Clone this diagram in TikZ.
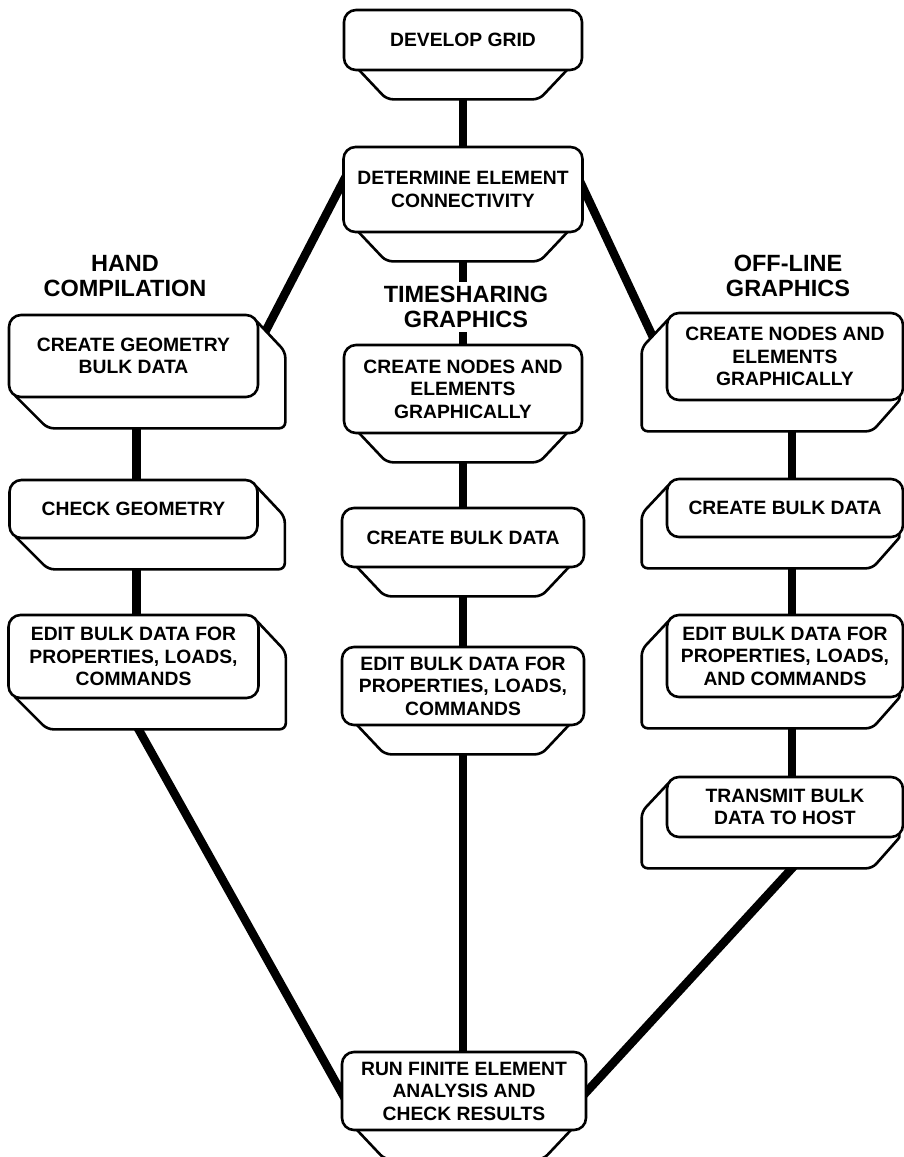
\documentclass[tikz,border=0pt]{standalone}
\usepackage{fontspec}
\setmainfont{Liberation Sans}
\usetikzlibrary{calc}
\pgfdeclarelayer{lines}
\pgfdeclarelayer{backs}
\pgfsetlayers{lines,backs,main}
\newcommand\bxfont{\bfseries\fontsize{19.3}{22.5}\selectfont}
\newcommand\hdfont{\bfseries\fontsize{23.5}{25}\selectfont}
\tikzset{
  box/.style={draw, line width=2.6pt, rounded corners=12pt, fill=white, align=center, inner sep=0pt, font=\bxfont},
  backshape/.style={draw, line width=2.6pt, rounded corners=6pt, fill=white},
  conn/.style={line width=8.5pt, shorten <=-8pt, shorten >=-8pt},
  heading/.style={align=center, font=\hdfont, fill=white, inner sep=4pt},
}
\newcommand\backC[1]{\path[backshape] ($(#1.south west)+(10,-8)$) -- ($(#1.south west)+(44,28)$) -- ($(#1.south east)+(-44,28)$) -- ($(#1.south east)+(-10,-8)$) -- cycle;}
\newcommand\backL[1]{\path[backshape] ($(#1.north east)+(-6,4)$) -- ($(#1.north east)+(26,38)$) -- ($(#1.south east)+(26,30)$) -- ($(#1.south west)+(40,30)$) -- ($(#1.south west)+(4,-6)$) -- cycle;}
\newcommand\backR[1]{\path[backshape] ($(#1.north west)+(6,4)$) -- ($(#1.north west)+(-24,36)$) -- ($(#1.south west)+(-24,30)$) -- ($(#1.south east)+(-32,30)$) -- ($(#1.south east)+(-2,-4)$) -- cycle;}
\begin{document}
\begin{tikzpicture}[x=1pt,y=-1pt]
\useasboundingbox (0,0) rectangle (904,1157);
% centre column
\node[box, minimum width=238, minimum height=60] (dg) at (463,40) {DEVELOP GRID};
\node[box, minimum width=239, minimum height=85] (det) at (463,189.5) {DETERMINE ELEMENT\\CONNECTIVITY};
\node[box, minimum width=238, minimum height=88] (tn) at (463,389) {CREATE NODES AND\\ELEMENTS\\GRAPHICALLY};
\node[box, minimum width=242, minimum height=59] (tb) at (463,537.5) {CREATE BULK DATA};
\node[box, minimum width=242, minimum height=78] (te) at (463,686) {EDIT BULK DATA FOR\\PROPERTIES, LOADS,\\COMMANDS};
\node[box, minimum width=244, minimum height=78] (run) at (464,1091) {RUN FINITE ELEMENT\\ANALYSIS AND\\CHECK RESULTS};
% left column
\node[box, minimum width=249, minimum height=82] (cg) at (133.5,356) {CREATE GEOMETRY\\BULK DATA};
\node[box, minimum width=248, minimum height=58] (cgeo) at (133.5,509) {CHECK GEOMETRY};
\node[box, minimum width=250, minimum height=83] (le) at (133.5,656.5) {EDIT BULK DATA FOR\\PROPERTIES, LOADS,\\COMMANDS};
% right column
\node[box, minimum width=236, minimum height=87] (rn) at (785,356.5) {CREATE NODES AND\\ELEMENTS\\GRAPHICALLY};
\node[box, minimum width=236, minimum height=58] (rb) at (785,508) {CREATE BULK DATA};
\node[box, minimum width=236, minimum height=82] (re) at (785,656) {EDIT BULK DATA FOR\\PROPERTIES, LOADS,\\AND COMMANDS};
\node[box, minimum width=236, minimum height=60] (rt) at (785,807) {TRANSMIT BULK\\DATA TO HOST};
% headings
\node[heading] (hc) at (125,276) {HAND\\COMPILATION};
\node[heading] (ts) at (466,307) {TIMESHARING\\GRAPHICS};
\node[heading] (ol) at (788,276) {OFF-LINE\\GRAPHICS};
% back shapes
\begin{pgfonlayer}{backs}
\backC{dg}\backC{det}\backC{tn}\backC{tb}\backC{te}\backC{run}
\backL{cg}\backL{cgeo}\backL{le}
\backR{rn}\backR{rb}\backR{re}\backR{rt}
\end{pgfonlayer}
% connectors
\begin{pgfonlayer}{lines}
\draw[conn] (dg.south) -- (det.north);
\draw[conn] (det.south) -- (tn.north);
\draw[conn] (tn.south) -- (tb.north);
\draw[conn] (tb.south) -- (te.north);
\draw[conn] (te.south) -- ($(run.north)+(-1,0)$);
\draw[conn] ($(det.west)+(1,-8)$) -- ($(cg.north east)+(6,18)$);
\draw[conn] (det.east) -- ($(rn.north west)+(-12,27)$);
\draw[conn] ($(cg.south)+(3,0)$) -- ($(cgeo.north)+(3,0)$);
\draw[conn] ($(cgeo.south)+(3,0)$) -- ($(le.north)+(3,0)$);
\draw[conn] ($(le.south)+(5,30)$) -- (run.west);
\draw[conn] ($(rn.south)+(7,0)$) -- ($(rb.north)+(7,0)$);
\draw[conn] ($(rb.south)+(7,0)$) -- ($(re.north)+(7,0)$);
\draw[conn] ($(re.south)+(7,0)$) -- ($(rt.north)+(7,0)$);
\draw[conn] ($(rt.south)+(7,30)$) -- (run.east);
\end{pgfonlayer}
\end{tikzpicture}
\end{document}
